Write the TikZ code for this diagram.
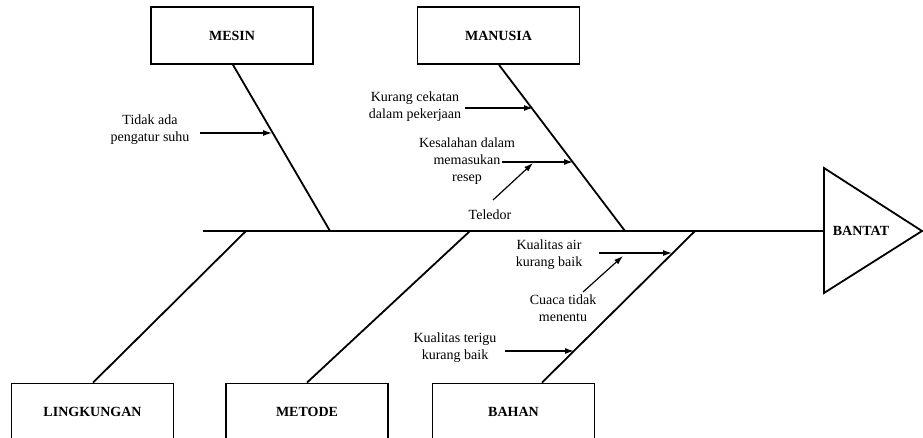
\documentclass[tikz,border=0pt]{standalone}
\usepackage{fontspec}
\setmainfont{Liberation Serif}
\usetikzlibrary{arrows.meta}
\begin{document}
\begin{tikzpicture}[x=1pt, y=-1pt, line width=1.8pt,
  every node/.style={font=\fontsize{14}{17}\selectfont},
  cat box/.style={rectangle,draw,minimum width=162pt,minimum height=57pt,inner sep=0pt,font=\fontsize{14}{17}\selectfont\bfseries},
  cause/.style={align=center},
  sub arrow/.style={line width=1.2pt,-{Latex[length=9pt,width=6pt]}}]
\useasboundingbox (0,0) rectangle (923,438);
\begin{scope}
\node[cat box] (mesin) at (232,35.5) {MESIN};
\node[cat box] (manusia) at (498.5,35.5) {MANUSIA};
\node[cat box] (lingk) at (92.5,412) {LINGKUNGAN};
\node[cat box] (metode) at (307,412) {METODE};
\node[cat box] (bahan) at (513.5,412) {BAHAN};
\node[font=\fontsize{14}{17}\selectfont\bfseries] (bantat) at (861,231) {BANTAT};
%causes
\node[cause] (tidak) at (150,130) {Tidak ada\\pengatur suhu};
\node[cause] (kurang) at (415,107) {Kurang cekatan\\dalam pekerjaan};
\node[cause] (salah) at (467,161) {Kesalahan dalam\\memasukan\\resep};
\node[cause] (teledor) at (490,215) {Teledor};
\node[cause] (air) at (549,255) {Kualitas air\\kurang baik};
\node[cause] (cuaca) at (563,308) {Cuaca tidak\\menentu};
\node[cause] (terigu) at (455,348) {Kualitas terigu\\kurang baik};
\end{scope}
% spine and head
\coordinate (tail) at (203,231);
\coordinate (h1) at (824,168);
\coordinate (h2) at (922,231);
\coordinate (h3) at (824,293);
\coordinate (hm) at (824,231);
\coordinate (s1) at (246,231);
\coordinate (s2) at (330,231);
\coordinate (s3) at (470,231);
\coordinate (s4) at (625,231);
\coordinate (s5) at (695,231);
% arrow ends
\coordinate (a1) at (200,133); \coordinate (b1) at (272,133);
\coordinate (a2) at (465,108); \coordinate (b2) at (533,108);
\coordinate (a3) at (502,162); \coordinate (b3) at (573,162);
\coordinate (a4) at (493,200); \coordinate (b4) at (533,163);
\coordinate (a5) at (599,253); \coordinate (b5) at (672,253);
\coordinate (a6) at (583,292); \coordinate (b6) at (623,256);
\coordinate (a7) at (505,351); \coordinate (b7) at (574,351);
\begin{scope}
\draw (tail) -- (hm);
\draw (h1) -- (h2) -- (h3) -- cycle;
\draw (mesin.south) ++(1,0) -- (s2);
\draw (manusia.south) ++(0.5,0) -- (s4);
\draw (lingk.north) ++(0.5,0) -- (s1);
\draw (metode.north) -- (s3);
\draw (bahan.north) ++(28.5,0) -- (s5);
\end{scope}
\begin{scope}
\draw[sub arrow] (a1) -- (b1);
\draw[sub arrow] (a2) -- (b2);
\draw[sub arrow] (a3) -- (b3);
\draw[sub arrow] (a4) -- (b4);
\draw[sub arrow] (a5) -- (b5);
\draw[sub arrow] (a6) -- (b6);
\draw[sub arrow] (a7) -- (b7);
\end{scope}
\end{tikzpicture}
\end{document}
